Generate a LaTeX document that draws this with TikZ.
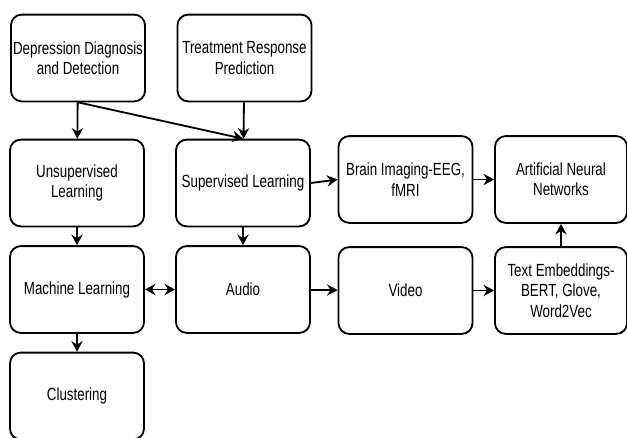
\documentclass[tikz,border=0pt]{standalone}
\usepackage{fontspec}
\setmainfont[FakeStretch=0.76]{Liberation Sans}
\usetikzlibrary{arrows.meta}
\definecolor{box_color}{RGB}{0, 0, 0}
\tikzset{
  blockbox/.style={draw=box_color, line width=1.3pt, rounded corners=0.27cm,
    minimum width=3.35cm, minimum height=2.17cm, align=center,
    font=\fontsize{12.5}{14.5}\selectfont, inner sep=1pt},
  flow/.style={line width=1.3pt, -{Stealth[length=7.5pt, width=8pt]}},
  twoway/.style={line width=1.3pt, {Stealth[length=7.5pt, width=8pt]}-{Stealth[length=7.5pt, width=8pt]}}
}

\begin{document}
\begin{tikzpicture}[x=0.025cm, y=-0.025cm]
        \useasboundingbox (0,0) rectangle (627,437);
        \node[blockbox] (dep) at (78,58) {Depression Diagnosis\\and Detection};
        \node[blockbox] (treat) at (244.5,58) {Treatment Response\\Prediction};
        \node[blockbox] (unsup) at (77,183) {Unsupervised\\Learning};
        \node[blockbox] (sup) at (243,183) {Supervised Learning};
        \node[blockbox] (brain) at (405.5,179.5) {Brain Imaging-EEG,\\fMRI};
        \node[blockbox, minimum width=3.3cm] (ann) at (561,179.5) {Artificial Neural\\Networks};
        \node[blockbox] (ml) at (77,289.5) {Machine Learning};
        \node[blockbox] (audio) at (243,289.5) {Audio};
        \node[blockbox] (video) at (405.5,290.5) {Video};
        \node[blockbox, minimum width=3.3cm] (text) at (561,290.5) {Text Embeddings-\\BERT, Glove,\\Word2Vec};
        \node[blockbox] (clust) at (77,396) {Clustering};
        \draw[flow] (dep) -- (unsup);
        \draw[flow] (dep.south) -- (sup.north);
        \draw[flow] (treat) -- (sup);
        \draw[flow] (unsup) -- (ml);
        \draw[flow] (sup) -- (audio);
        \draw[flow] (sup.east) -- (brain.west);
        \draw[flow] (brain) -- (ann);
        \draw[twoway] (ml) -- (audio);
        \draw[flow] (audio) -- (video);
        \draw[flow] (video) -- (text);
        \draw[flow] (text) -- (ann);
        \draw[flow] (ml) -- (clust);
      \end{tikzpicture}
\end{document}
